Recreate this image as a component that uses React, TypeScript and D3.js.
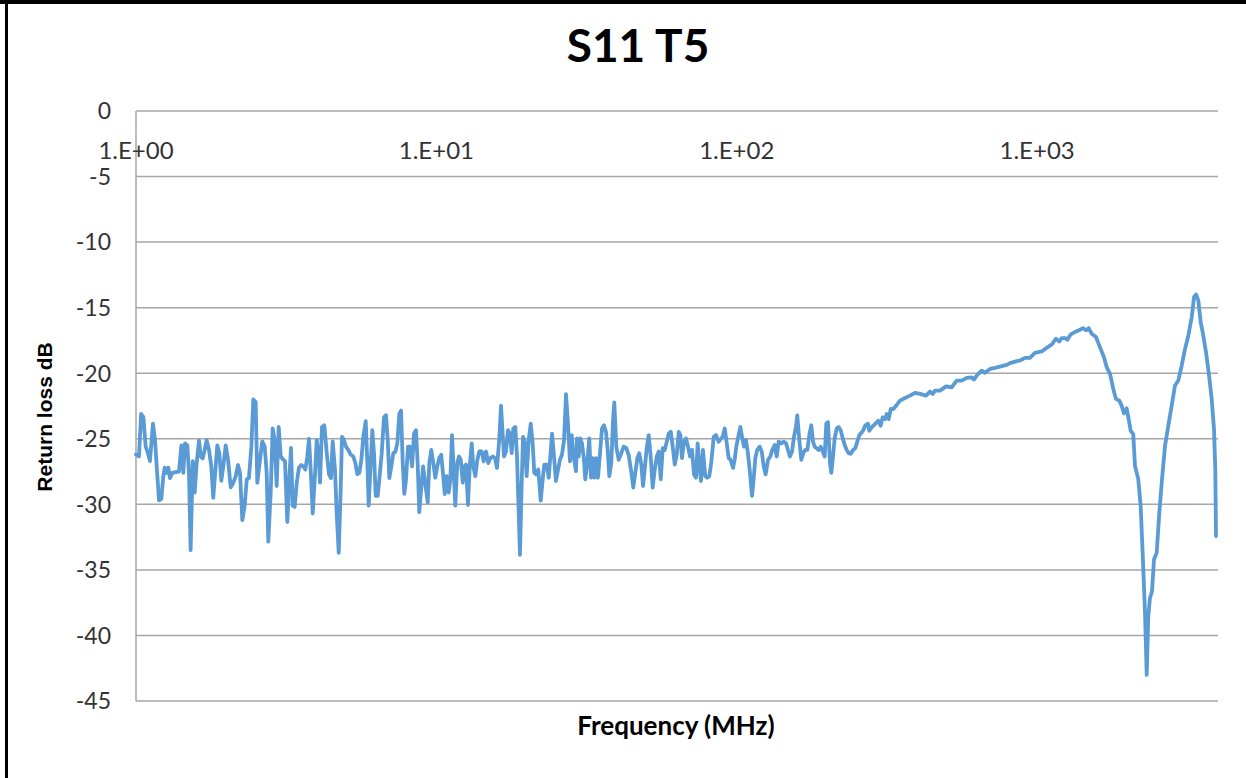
import * as d3 from "d3";

// S11 sweep, split into the noisy low band and the high band
const lowBandMHz = [
  1.0, 1.023, 1.04, 1.058, 1.077, 1.096, 1.113, 1.139, 1.157, 1.172, 1.193, 1.214, 1.233, 1.246, 1.265,
  1.281, 1.298, 1.321, 1.355, 1.39, 1.416, 1.437, 1.456, 1.482, 1.501, 1.52, 1.545, 1.568, 1.592, 1.621,
  1.642, 1.667, 1.693, 1.719, 1.75, 1.781, 1.808, 1.842, 1.865, 1.894, 1.923, 1.953, 1.989, 2.025, 2.067,
  2.109, 2.148, 2.186, 2.22, 2.259, 2.301, 2.337, 2.377, 2.421, 2.458, 2.503, 2.534, 2.587, 2.633, 2.682,
  2.723, 2.757, 2.808, 2.851, 2.895, 2.94, 2.985, 3.032, 3.093, 3.133, 3.19, 3.238, 3.281, 3.324, 3.375,
  3.428, 3.488, 3.551, 3.606, 3.661, 3.718, 3.767, 3.825, 3.875, 3.936, 3.996, 4.058, 4.099, 4.159, 4.236,
  4.315, 4.39, 4.457, 4.517, 4.597, 4.656, 4.73, 4.802, 4.851, 4.925, 5.0, 5.09, 5.184, 5.291, 5.372,
  5.456, 5.54, 5.626, 5.713, 5.818, 5.89, 5.952, 6.044, 6.118, 6.199, 6.28, 6.377, 6.457, 6.577, 6.693,
  6.797, 6.887, 6.972, 7.079, 7.188, 7.3, 7.413, 7.527, 7.627, 7.727, 7.822, 7.925, 8.045, 8.166, 8.299,
  8.424, 8.551, 8.664, 8.77, 9.03, 9.355, 9.471, 9.616, 9.766, 9.917, 10.07, 10.22, 10.38, 10.54, 10.66,
  10.82, 10.99, 11.13, 11.27, 11.42, 11.56, 11.74, 11.89, 12.05, 12.24, 12.39, 12.55, 12.74, 12.91, 13.11,
  13.27, 13.48, 13.69, 13.9, 14.16, 14.37, 14.63, 14.89, 15.12, 15.4, 15.67, 15.91, 16.2, 16.41, 16.62,
  16.79, 17.05, 17.31, 17.58, 17.81, 18.03, 18.31, 18.55, 18.79, 18.98, 19.23, 19.43, 19.68, 19.98, 20.29,
  20.61, 20.92, 21.18, 21.46, 21.84, 22.25, 22.59, 22.87, 23.3, 23.66, 24.02, 24.27, 24.64, 25.0, 25.41,
  25.79, 26.18, 26.61, 27.01, 27.42, 27.85, 28.21, 28.64, 29.16, 29.38, 29.77, 30.13, 30.53, 31.0, 31.31,
  31.79, 32.28, 32.71, 33.14, 33.55, 33.98, 34.51, 35.05, 35.59, 36.14, 36.7, 37.18, 37.64, 38.22, 38.73,
  39.11, 39.72, 40.44, 41.27, 42.03, 42.88, 43.65, 44.44, 45.24, 45.94, 46.67, 47.37, 48.11, 48.75, 49.37,
  50.13, 50.91, 51.69, 52.5, 53.32, 54.15, 54.98, 55.84, 56.7, 57.58, 58.47, 59.37, 60.3, 61.21, 62.16,
  63.12, 64.1, 64.87, 65.72, 66.74, 67.76, 68.8, 69.88, 70.96, 72.05, 73.16, 74.1, 75.0, 76.0, 77.17,
  78.53, 79.7, 81.0, 82.2, 83.8, 85.27, 87.06, 88.82, 89.75, 91.2, 92.3, 93.98, 95.4, 97.2, 98.4, 99.65,
];

const lowBandDb = [
  -26.2, -26.35, -23.1, -23.35, -25.6, -26.1, -26.7, -23.85, -25.1, -27.1, -29.7, -29.6, -27.85, -27.2, -27.6,
  -27.2, -28.0, -27.6, -27.55, -27.5, -25.5, -27.6, -25.35, -25.5, -27.6, -33.5, -26.7, -29.1, -26.85, -25.15,
  -26.35, -26.5, -25.85, -25.1, -25.85, -27.1, -29.5, -27.1, -25.5, -26.1, -28.2, -27.1, -25.5, -26.6, -28.7,
  -28.35, -27.85, -27.0, -27.6, -31.2, -30.1, -28.1, -28.0, -25.6, -22.0, -22.2, -28.35, -26.6, -25.2, -25.6,
  -27.6, -32.85, -29.1, -24.2, -25.1, -28.6, -24.1, -26.35, -26.6, -26.7, -31.35, -28.1, -25.7, -30.1, -30.2,
  -28.35, -27.2, -27.0, -27.1, -27.35, -26.35, -25.0, -27.85, -30.7, -28.1, -25.1, -26.35, -28.35, -24.1, -23.97,
  -26.1, -27.7, -28.0, -25.2, -27.35, -30.6, -33.7, -28.85, -24.85, -25.1, -25.6, -25.85, -26.2, -26.35, -26.85,
  -27.7, -27.6, -26.6, -24.85, -23.65, -26.85, -30.1, -26.85, -24.35, -26.1, -29.35, -29.35, -28.1, -26.1, -23.35,
  -23.2, -25.1, -28.0, -27.1, -26.1, -26.0, -25.35, -23.1, -22.85, -26.85, -29.2, -28.1, -25.6, -25.6, -27.1,
  -24.6, -24.35, -26.85, -30.6, -27.1, -29.85, -26.85, -25.85, -26.85, -27.97, -27.1, -26.47, -26.22, -27.85, -29.22,
  -27.85, -29.1, -28.1, -24.72, -27.35, -30.1, -26.85, -26.35, -26.6, -28.35, -27.1, -26.97, -30.05, -27.1, -25.35,
  -27.1, -27.85, -26.6, -25.97, -25.97, -26.72, -25.97, -26.85, -26.47, -26.35, -26.47, -27.22, -24.97, -22.47, -24.6,
  -26.35, -25.97, -24.35, -24.6, -26.1, -24.22, -24.1, -26.35, -30.6, -33.85, -28.35, -24.85, -25.22, -27.85, -25.1,
  -23.85, -25.35, -27.6, -27.72, -27.35, -29.72, -28.1, -26.97, -26.97, -27.97, -25.97, -24.6, -26.35, -28.22, -27.35,
  -26.6, -26.22, -25.1, -21.6, -23.85, -26.72, -24.72, -26.35, -27.47, -24.97, -26.35, -24.97, -25.35, -26.6, -28.1,
  -26.85, -24.97, -27.97, -26.47, -27.97, -26.47, -27.97, -26.1, -24.22, -23.97, -24.47, -25.85, -27.85, -26.85, -23.6,
  -22.22, -25.6, -26.6, -26.1, -25.6, -25.72, -26.22, -27.35, -28.72, -27.6, -26.47, -26.1, -26.97, -28.6, -27.35,
  -25.72, -24.72, -26.35, -28.72, -27.35, -26.35, -25.97, -28.1, -25.72, -25.85, -25.22, -24.6, -24.47, -25.6, -26.97,
  -26.22, -24.47, -24.72, -26.47, -25.22, -24.97, -25.6, -26.35, -25.85, -27.72, -27.97, -25.35, -26.85, -28.22, -25.85,
  -27.85, -27.97, -27.85, -26.85, -24.85, -24.72, -25.22, -24.97, -24.85, -24.22, -25.1, -26.47, -26.6, -27.22, -26.6, -25.6,
];

const highBandMHz = [
  100.9, 102.8, 104.3, 105.7, 107.3, 108.9, 110.4, 112.4, 113.8, 115.3, 117.0, 119.2, 121.1, 122.9, 124.8,
  127.1, 129.3, 131.3, 133.7, 135.8, 137.9, 140.7, 143.2, 145.9, 148.1, 150.3, 152.8, 155.0, 157.4, 159.0,
  161.5, 164.0, 166.5, 169.1, 171.8, 174.4, 177.0, 179.4, 181.7, 184.5, 187.4, 190.3, 193.2, 196.2, 198.6,
  201.2, 204.3, 206.4, 209.1, 211.8, 215.1, 218.4, 221.8, 225.3, 228.7, 232.3, 235.9, 239.5, 243.8, 248.1,
  251.9, 255.9, 259.8, 263.6, 267.9, 273.5, 276.2, 281.2, 288.4, 295.8, 301.3, 306.0, 311.5, 315.6, 320.5,
  325.4, 332.0, 340.8, 349.5, 363.1, 377.4, 392.1, 407.4, 426.6, 439.9, 449.0, 457.1, 475.0, 497.4, 519.5,
  539.6, 560.9, 582.7, 605.4, 616.6, 632.0, 653.6, 670.4, 696.6, 723.8, 762.1, 791.8, 812.1, 855.1, 877.0,
  911.0, 946.3, 983.6, 1035, 1076, 1118, 1155, 1185, 1207, 1238, 1260, 1293, 1337, 1389, 1424,
  1454, 1484, 1519, 1570, 1618, 1669, 1704, 1748, 1792, 1830, 1877, 1911, 1945, 1986, 2017,
  2048, 2089, 2117, 2171, 2211, 2245, 2286, 2316, 2344, 2375, 2412, 2449, 2500, 2551, 2604,
  2665, 2733, 2805, 2877, 2951, 3029, 3107, 3187, 3271, 3329, 3381, 3439, 3503, 3573, 3648,
  3724, 3811, 3879, 3918, 3939,
];

const highBandDb = [
  -24.97, -24.1, -24.97, -25.6, -25.1, -26.1, -27.35, -29.35, -28.1, -26.47, -25.85, -25.6, -25.97, -27.1, -27.72,
  -26.6, -26.35, -25.85, -25.47, -26.35, -25.22, -25.35, -25.22, -25.35, -25.85, -26.35, -25.97, -24.85, -24.1, -23.22,
  -25.1, -26.6, -26.1, -25.85, -25.85, -24.72, -23.97, -25.22, -25.6, -25.72, -25.85, -25.6, -25.97, -26.35, -23.85,
  -23.72, -26.85, -27.6, -26.35, -24.97, -24.22, -24.1, -24.35, -24.97, -25.47, -25.85, -26.1, -26.15, -25.85, -25.72,
  -25.22, -24.72, -24.55, -24.35, -23.97, -23.85, -24.39, -24.13, -23.88, -23.62, -24.0, -23.37, -23.5, -23.11, -23.5,
  -22.73, -22.73, -22.42, -22.09, -21.89, -21.71, -21.5, -21.58, -21.71, -21.4, -21.58, -21.33, -21.33, -21.0, -21.07,
  -20.56, -20.56, -20.36, -20.31, -20.48, -20.13, -19.8, -19.97, -19.67, -19.59, -19.46, -19.36, -19.23, -19.08, -19.03,
  -18.83, -18.83, -18.44, -18.34, -18.06, -17.81, -17.37, -17.58, -17.32, -17.32, -17.45, -17.04, -16.86, -16.68, -16.56,
  -16.73, -16.56, -16.99, -17.24, -18.01, -18.78, -19.54, -20.05, -21.2, -21.96, -22.09, -22.47, -23.06, -22.68, -23.5,
  -24.39, -24.64, -27.07, -28.09, -30.13, -33.7, -38.29, -43.01, -38.55, -37.14, -36.63, -34.21, -33.7, -30.64, -28.09,
  -25.54, -24.0, -22.47, -20.94, -20.56, -19.41, -18.14, -17.12, -15.71, -14.18, -14.0, -14.44, -16.1, -17.12, -18.39,
  -19.92, -21.96, -24.26, -27.32, -32.42,
];

const yTicks = [0, -5, -10, -15, -20, -25, -30, -35, -40, -45];
const xTicks = [1, 10, 100, 1000];
const xTickLabels = ["1.E+00", "1.E+01", "1.E+02", "1.E+03"];

const W = 1246;
const H = 778;
const plot = { left: 136, right: 1218, top: 111, bottom: 701 };

export default function App() {
  const points: [number, number][] = [
    ...lowBandMHz.map((f, i) => [f, lowBandDb[i]] as [number, number]),
    ...highBandMHz.map((f, i) => [f, highBandDb[i]] as [number, number]),
  ];

  const x = d3.scaleLog().domain([1, 4000]).range([plot.left, plot.right]);
  const y = d3.scaleLinear().domain([0, -45]).range([plot.top, plot.bottom]);

  const line = d3
    .line<[number, number]>()
    .x((d) => x(d[0]))
    .y((d) => y(d[1]));

  const font = "Lato, 'Open Sans', sans-serif";

  return (
    <div style={{ position: "fixed", left: 0, top: 0 }}>
      <svg width={W} height={H} style={{ display: "block", background: "#fff" }}>
        {/* frame */}
        <rect x={0} y={0} width={W} height={4} fill="#000" />
        <rect x={5} y={0} width={3} height={H} fill="#000" />

        {/* gridlines */}
        {yTicks.map((t) => (
          <line
            key={t}
            x1={plot.left}
            x2={plot.right}
            y1={y(t)}
            y2={y(t)}
            stroke="#a6a6a6"
            strokeWidth={1.5}
          />
        ))}
        <line
          x1={plot.left}
          x2={plot.left}
          y1={plot.top}
          y2={plot.bottom}
          stroke="#a6a6a6"
          strokeWidth={1.5}
        />

        {/* y tick labels */}
        {yTicks.map((t) => (
          <text
            key={t}
            x={111}
            y={y(t)}
            dy="0.36em"
            textAnchor="end"
            fontFamily={font}
            fontSize={23}
            fill="#333"
          >
            {t}
          </text>
        ))}

        {/* x tick labels (axis crosses at 0 dB) */}
        {xTicks.map((t, i) => (
          <text
            key={t}
            x={x(t)}
            y={150}
            dy="0.36em"
            textAnchor="middle"
            fontFamily={font}
            fontSize={24}
            fill="#333"
          >
            {xTickLabels[i]}
          </text>
        ))}

        {/* trace */}
        <path
          d={line(points) ?? ""}
          fill="none"
          stroke="#5b9bd5"
          strokeWidth={3.8}
          strokeLinejoin="round"
          strokeLinecap="round"
        />

        {/* titles */}
        <text
          x={638}
          y={62}
          textAnchor="middle"
          fontFamily={font}
          fontWeight="bold"
          fontSize={46}
          fill="#000"
        >
          S11 T5
        </text>
        <text
          x={676}
          y={735}
          textAnchor="middle"
          fontFamily={font}
          fontWeight="bold"
          fontSize={26}
          fill="#000"
        >
          Frequency (MHz)
        </text>
        <text
          transform="translate(52,417) rotate(-90)"
          textAnchor="middle"
          fontFamily="'Liberation Sans', Arial, sans-serif"
          fontWeight="bold"
          fontSize={21}
          fill="#000"
        >
          Return loss dB
        </text>
      </svg>
    </div>
  );
}
